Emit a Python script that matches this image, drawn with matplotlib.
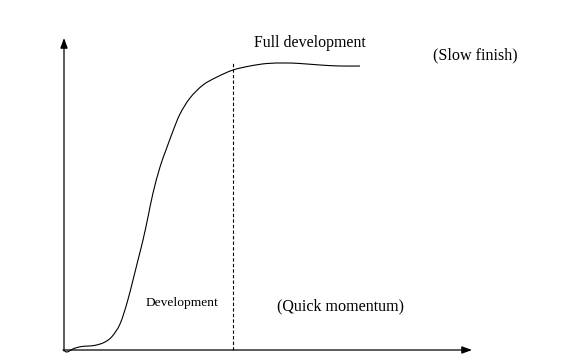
import matplotlib
matplotlib.use("Agg")
import matplotlib.pyplot as plt
from matplotlib.path import Path
from matplotlib.patches import PathPatch
import numpy as np

# S-curve (x = time, y = level), origin at the axes corner
time = np.array([0, 3, 10, 18, 30, 40, 48, 56, 63, 69, 74, 79, 84, 89, 96, 102, 109, 116,
                 126, 139, 153, 169, 186, 203, 221, 236, 256, 276, 296])
level = np.array([0, -2, 1.5, 3.5, 4.5, 7.5, 13.5, 26, 47, 70, 90, 110, 133, 157, 183, 200,
                  219, 236, 252, 265, 273, 280, 284, 286.5, 287, 286.5, 285, 284, 284])

split_x = 168.5      # dashed boundary between phases
split_top = 288
x_end, y_end = 408, 312

labels = ["Full development", "(Slow finish)", "Development", "(Quick momentum)"]
label_pos = [(190, 307), (369, 295), (82, 47), (213, 44)]
label_size = [11.4, 11.6, 9.7, 11.6]

fig = plt.figure(figsize=(5.65, 3.64), dpi=100)
ax = fig.add_axes([0, 0, 1, 1])
ax.set_xlim(-64, 501)
ax.set_ylim(-14, 350)
ax.axis("off")

# smooth the curve through the read points (Catmull-Rom as cubic Bezier segments)
pts = np.column_stack([time, level])
ext = np.vstack([pts[0], pts, pts[-1]])
verts = [pts[0]]
codes = [Path.MOVETO]
for i in range(1, len(ext) - 2):
    p0, p1, p2, p3 = ext[i - 1], ext[i], ext[i + 1], ext[i + 2]
    verts += [p1 + (p2 - p0) / 6, p2 - (p3 - p1) / 6, p2]
    codes += [Path.CURVE4] * 3
ax.add_patch(PathPatch(Path(verts, codes), facecolor="none", edgecolor="black", lw=0.8))

# axes drawn as arrows
arrow = dict(arrowstyle="-|>,head_length=0.6,head_width=0.22", color="black", lw=0.9,
             shrinkA=0, shrinkB=0)
ax.annotate("", xy=(0, y_end), xytext=(0, -1), arrowprops=arrow)
ax.annotate("", xy=(x_end, 0), xytext=(-1, 0), arrowprops=arrow)

ax.plot([split_x, split_x], [0, split_top], color="black", linewidth=0.8,
        linestyle=(0, (3, 2)))

for txt, (tx, ty), fs in zip(labels, label_pos, label_size):
    ax.text(tx, ty, txt, fontsize=fs, family="Liberation Serif", ha="left", va="center")

fig.savefig("out.png", dpi=100)
